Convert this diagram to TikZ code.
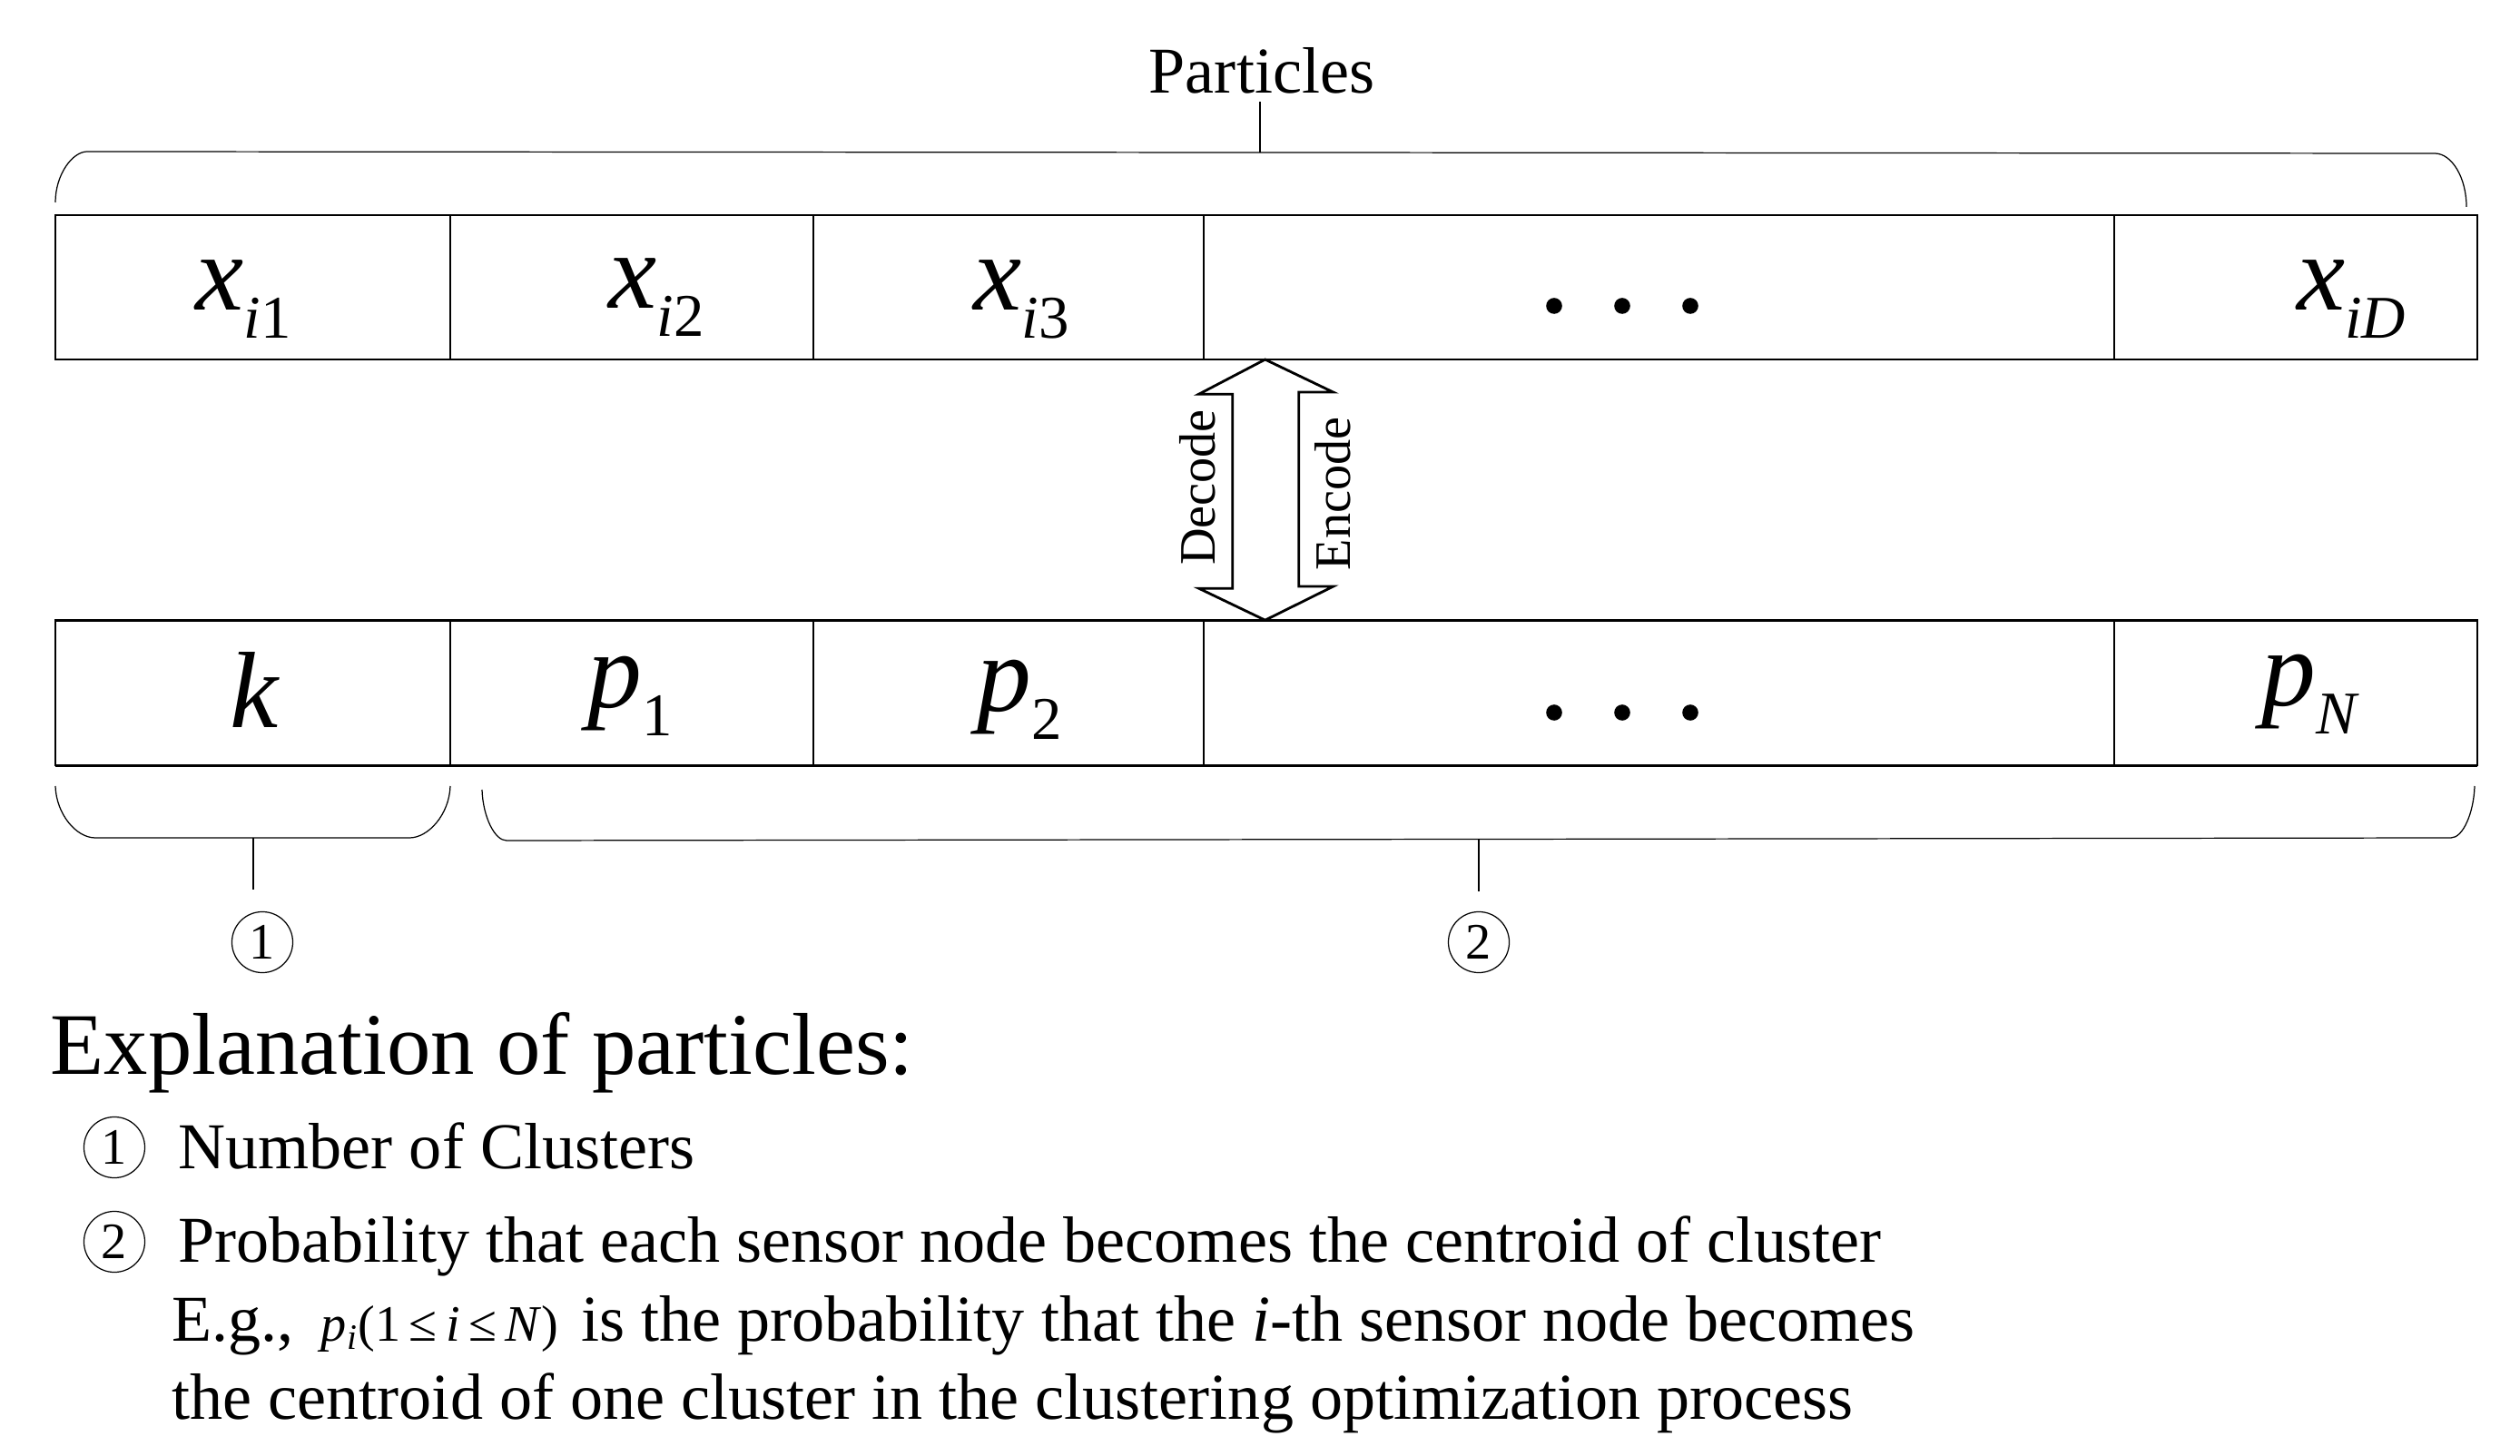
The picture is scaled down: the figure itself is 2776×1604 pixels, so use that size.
\documentclass[tikz,border=0pt]{standalone}
\usepackage{fontspec}
\setmainfont{Liberation Serif}
\usetikzlibrary{positioning,calc}

\newcommand{\cellsub}[2]{\textit{#1}\raisebox{-0.3cm}{\fontsize{19}{19}\selectfont #2}}

\begin{document}
\begin{tikzpicture}[
  x=0.01cm, y=-0.01cm,
  cell/.style={
    draw, line width=0.55pt, minimum height=1.59cm,
    inner sep=0pt, outer sep=0pt
  },
  rim/.style={line width=0.75pt},
  var/.style={font=\fontsize{34}{34}\selectfont, inner sep=0pt, anchor=base},
  brc/.style={line width=0.35pt},
  num/.style={
    draw, circle, line width=0.35pt, minimum size=0.67cm,
    inner sep=0pt, font=\fontsize{16}{16}\selectfont
  },
  dbl/.style={line width=0.8pt, line join=miter},
  txt/.style={font=\fontsize{20.5}{20.5}\selectfont, inner sep=0pt, anchor=base west},
]
\useasboundingbox (0,0) rectangle (2776,1604);

%% particle (top row)
\node[cell, minimum width=4.35cm] (xa) at (278.5,316.5) {};
\node[cell, minimum width=4cm, right=0pt of xa] (xb) {};
\node[cell, minimum width=4.29cm, right=0pt of xb] (xc) {};
\node[cell, minimum width=10.03cm, right=0pt of xc] (xdots) {};
\node[cell, minimum width=4cm, right=0pt of xdots] (xd) {};
\draw[rim] (xa.north west) -- (xd.north east);
\draw[rim] (xa.south west) -- (xd.south east);

%% clustering solution (bottom row)
\node[cell, minimum width=4.35cm, minimum height=1.6cm, below=2.87cm of xa] (kc) {};
\node[cell, minimum width=4cm, minimum height=1.6cm, right=0pt of kc] (pa) {};
\node[cell, minimum width=4.29cm, minimum height=1.6cm, right=0pt of pa] (pb) {};
\node[cell, minimum width=10.03cm, minimum height=1.6cm, right=0pt of pb] (pdots) {};
\node[cell, minimum width=4cm, minimum height=1.6cm, right=0pt of pdots] (pn) {};
\draw[rim] (kc.north west) -- (pn.north east);
\draw[rim] (kc.south west) -- (pn.south east);

%% cell entries
\node[var] (lxa) at (268,342) {\cellsub{x}{\textit{i}1}};
\node[var] (lxb) at (723,340) {\cellsub{x}{\textit{i}2}};
\node[var] (lxc) at (1125,342) {\cellsub{x}{\textit{i}3}};
\node[var] (lxd) at (2590,342) {\cellsub{x}{\textit{iD}}};
\node[var] (lk) at (281,802) {\textit{k}};
\node[var] (lpa) at (694,780) {\cellsub{p}{1}};
\node[var] (lpb) at (1123,784) {\cellsub{p}{2}};
\node[var] (lpn) at (2545,778) {\cellsub{p}{\textit{N}}};
\foreach \cx in {1712,1787,1862} {
  \fill (\cx,337) circle (0.088cm);
  \fill (\cx,785) circle (0.088cm);
}

%% decode / encode arrow
\coordinate (up) at ([xshift=0.68cm]xdots.south west);
\coordinate (dn) at ([xshift=0.68cm]pdots.north west);
\draw[dbl] (up) -- ++(75,36) -- ++(-38,0) -- ++(0,214) -- ++(38,0) -- (dn)
  -- ++(-73,-35) -- ++(37,0) -- ++(0,-214) -- ++(-37,0) -- cycle;
\node[font=\fontsize{16}{16}\selectfont, rotate=90, inner sep=0pt] (dec) at (1319,537) {Decode};
\node[font=\fontsize{16}{16}\selectfont, rotate=90, inner sep=0pt] (enc) at (1468,544) {Encode};

%% braces
\node[font=\fontsize{20.5}{20.5}\selectfont, inner sep=0pt, inner ysep=0.09cm, anchor=base]
  (ptl) at (1390,103) {Particles};
\draw[brc] (61,223) .. controls (61,192) and (80,167) .. (96,167)
  -- (2682,169) .. controls (2701,169) and (2717,196) .. (2717,228);
\draw[brc] (1388,168) -- (1388,112);
\draw[brc] (61,866) .. controls (62,897) and (84,923) .. (105,923)
  -- (451,923) .. controls (472,923) and (495,897) .. (496,866);
\draw[brc] (531,870) .. controls (532,900) and (545,926) .. (558,926)
  -- (2700,923) .. controls (2713,923) and (2725,896) .. (2726,866);
\node[num] (na) at (289,1038) {1};
\node[num] (nb) at (1629,1038) {2};
\draw[brc] (279,923) -- (279,980);
\draw[brc] (1629,925) -- (1629,982);

%% explanation
\node[font=\fontsize{27.5}{27.5}\selectfont, inner sep=0pt, anchor=base west]
  (expl) at (55,1183) {Explanation of particles:};
\node[num] (la) at (126,1264) {1};
\node[txt] (ta) at (196,1287) {Number of Clusters};
\node[num] (lb) at (126,1368) {2};
\node[txt] (tb) at (196,1390) {Probability that each sensor node becomes the centroid of cluster};
\node[txt] (tc) at (189,1477) {E.g.,\hspace{0.3cm}{\fontsize{16}{16}\selectfont
  \textit{p}\textsubscript{\textit{i}}(1\,≤\,\textit{i}\,≤\,\textit{N})}\hspace{0.25cm}is
  the probability that the \textit{i}-th sensor node becomes};
\node[txt] (td) at (189,1563) {the centroid of one cluster in the clustering optimization process};
\end{tikzpicture}
\end{document}
